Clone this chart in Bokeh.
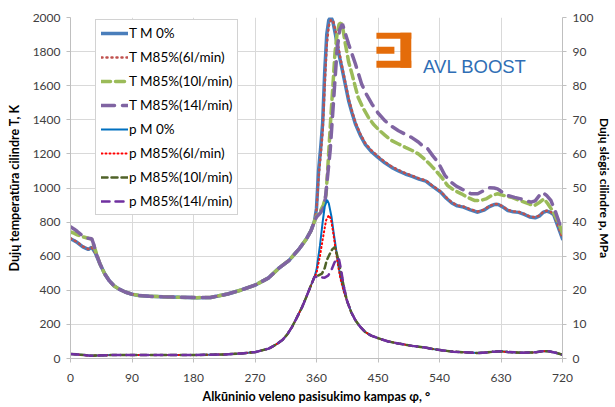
from bokeh.plotting import figure
from bokeh.models import (Range1d, LinearAxis, FixedTicker, Legend, LegendItem,
                          BoxAnnotation, Label)
from bokeh.embed import file_html
from bokeh.resources import INLINE

# ---------------- data ----------------
x_ticks = [0, 90, 180, 270, 360, 450, 540, 630, 720]
T_ticks = list(range(0, 2001, 200))
p_ticks = list(range(0, 101, 10))

# temperature, shared part of all four series (K)
phi_T_common = [43, 50, 57, 64, 72, 80, 90, 100, 115, 135, 160, 185, 205, 230, 250,
                270, 290, 305, 320, 335, 345, 352, 357]
T_common = [556, 497, 455, 425, 405, 390, 377, 370, 365, 362, 359, 357, 358, 378, 402,
            430, 473, 530, 576, 645, 700, 750, 805]

# T M 0%
phi_T0_head = [0, 5, 10, 18, 26, 31, 36]
T0_head = [702, 692, 680, 655, 640, 652, 622]
phi_T0_tail = [360, 363, 366, 369, 372, 375, 378, 381, 384, 388, 392, 397, 402, 407, 412,
               417, 424, 431, 440, 450, 460, 470, 480, 490, 500, 510, 520, 528, 535, 542,
               550, 558, 566, 575, 585, 596, 605, 613, 620, 626, 633, 640, 648, 656, 664,
               672, 680, 686, 692, 697, 702, 707, 712, 716, 720]
T0_tail = [880, 1100, 1230, 1380, 1680, 1900, 1985, 2005, 1975, 1895, 1800, 1707, 1610,
           1512, 1440, 1375, 1310, 1258, 1215, 1180, 1148, 1121, 1100, 1082, 1068, 1052,
           1040, 1015, 995, 975, 940, 912, 895, 888, 872, 858, 870, 891, 903, 903, 888,
           868, 860, 857, 845, 830, 825, 835, 858, 864, 858, 845, 790, 745, 702]

# T M85%(6l/min)
phi_T6_head = [0, 5, 10, 18, 26, 31, 36]
T6_head = [705, 694, 682, 657, 642, 652, 622]
phi_T6_tail = [360, 363, 366, 369, 372, 375, 378, 381, 384, 388, 392, 397, 402, 407, 412,
               417, 424, 431, 440, 450, 460, 470, 480, 490, 500, 510, 520, 528, 535, 542,
               550, 558, 566, 575, 585, 596, 605, 613, 620, 626, 633, 640, 648, 656, 664,
               672, 680, 686, 692, 697, 702, 707, 712, 716, 720]
T6_tail = [870, 1060, 1190, 1330, 1600, 1840, 1950, 1985, 1985, 1920, 1825, 1720, 1622,
           1525, 1450, 1385, 1318, 1265, 1222, 1186, 1153, 1126, 1105, 1087, 1072, 1056,
           1044, 1019, 999, 979, 944, 916, 898, 891, 875, 862, 873, 894, 906, 906, 891,
           871, 863, 860, 848, 833, 828, 838, 861, 867, 861, 848, 795, 750, 705]

# T M85%(10l/min)
phi_T10_head = [0, 5, 10, 18, 26, 31, 36]
T10_head = [742, 735, 725, 714, 705, 700, 640]
phi_T10_tail = [360, 365, 370, 374, 377, 381, 384, 387, 390, 393, 396, 399, 402, 407,
                412, 417, 421, 428, 436, 443, 450, 460, 470, 480, 490, 500, 509, 518, 528,
                535, 543, 552, 562, 572, 581, 591, 600, 608, 616, 625, 635, 645, 655, 664,
                672, 679, 686, 693, 699, 705, 710, 715, 720]
T10_tail = [835, 860, 900, 960, 1150, 1420, 1600, 1790, 1900, 1960, 1968, 1925, 1850,
            1740, 1668, 1590, 1531, 1470, 1414, 1375, 1346, 1310, 1278, 1258, 1238, 1220,
            1200, 1170, 1130, 1100, 1063, 1014, 985, 966, 945, 927, 927, 936, 955, 966,
            955, 946, 930, 917, 905, 897, 915, 936, 905, 868, 830, 790, 735]

# T M85%(14l/min)
phi_T14_head = [0, 5, 10, 15, 20, 26, 31, 34, 37]
T14_head = [772, 760, 745, 728, 715, 705, 703, 670, 622]
phi_T14_tail = [360, 365, 370, 373, 377, 380, 385, 390, 394, 398, 402, 407, 412, 417,
                426, 433, 441, 450, 460, 470, 480, 490, 499, 509, 518, 523, 530, 538, 548,
                557, 565, 572, 580, 586, 596, 605, 613, 620, 625, 632, 640, 650, 659, 667,
                674, 680, 686, 691, 697, 703, 710, 715, 720]
T14_tail = [830, 850, 880, 940, 1100, 1219, 1512, 1805, 1930, 1962, 1910, 1844, 1785,
            1727, 1610, 1550, 1493, 1440, 1395, 1362, 1336, 1315, 1297, 1270, 1238, 1229,
            1190, 1151, 1073, 1034, 1010, 995, 978, 966, 966, 985, 1001, 1000, 995, 975,
            956, 945, 936, 925, 917, 925, 955, 975, 955, 927, 858, 800, 745]

# pressure, shared parts of all four series (MPa)
phi_p_head = [0, 10, 20, 30, 40, 60, 90, 135, 180, 225, 250, 271, 290, 300, 310, 317,
              324, 330, 339, 345, 351, 357]
p_head = [1.3, 1.2, 1.0, 0.8, 0.9, 1.0, 1.0, 1.0, 1.0, 1.2, 1.5, 1.9, 2.9, 4.0, 5.4,
          7.0, 9.2, 11.5, 15.1, 18.0, 21.0, 23.9]
phi_p_tail = [405, 411, 417, 424, 431, 440, 451, 465, 480, 500, 519, 530, 543, 560, 577,
              596, 610, 620, 630, 640, 660, 680, 690, 700, 710, 720]
p_tail = [16.7, 13.5, 11.2, 9.3, 7.8, 6.7, 5.9, 5.0, 4.4, 3.7, 3.2, 2.8, 2.4, 2.0, 1.8,
          1.6, 1.8, 2.0, 2.1, 1.9, 1.7, 1.8, 2.1, 2.1, 1.7, 1.1]

# p M 0%
phi_p0_mid = [360, 365, 369, 372, 375.5, 378, 382, 385, 388, 391, 395, 400]
p0_mid = [26.0, 33.0, 40.0, 44.5, 46.5, 45.5, 41.5, 37.0, 33.0, 28.5, 23.9, 19.8]
# p M85%(6l/min)
phi_p6_mid = [360, 365, 370, 374, 378, 381, 384, 388, 391, 395, 400]
p6_mid = [25.0, 30.0, 36.0, 40.5, 42.0, 41.0, 37.5, 32.0, 28.0, 23.5, 19.6]
# p M85%(10l/min)
phi_p10_mid = [362, 368, 372, 375, 379, 383, 387, 390, 393, 397, 401]
p10_mid = [24.3, 24.9, 26.5, 28.8, 30.5, 32.0, 32.7, 30.5, 28.0, 24.0, 20.0]
# p M85%(14l/min)
phi_p14_mid = [362, 367, 372, 377, 382, 386, 390, 393, 396, 400]
p14_mid = [24.0, 23.8, 23.7, 24.3, 26.0, 28.0, 29.5, 29.0, 26.0, 21.0]

# logo
logo_orange = "#E46C0A"
logo_text = "AVL BOOST"

T_series = [
    ("T M 0%", phi_T0_head + phi_T_common + phi_T0_tail, T0_head + T_common + T0_tail,
     "#4A7EBB", 3.5, "solid"),
    ("T M85%(6l/min)", phi_T6_head + phi_T_common + phi_T6_tail, T6_head + T_common + T6_tail,
     "#C0504D", 2.5, "1 4"),
    ("T M85%(10l/min)", phi_T10_head + phi_T_common + phi_T10_tail,
     T10_head + T_common + T10_tail, "#9BBB59", 3.5, "9 5"),
    ("T M85%(14l/min)", phi_T14_head + phi_T_common + phi_T14_tail,
     T14_head + T_common + T14_tail, "#8064A2", 3.5, "13 8"),
]
p_series = [
    ("p M 0%", phi_p_head + phi_p0_mid + phi_p_tail, p_head + p0_mid + p_tail,
     "#0070C0", 2.0, "solid"),
    ("p M85%(6l/min)", phi_p_head + phi_p6_mid + phi_p_tail, p_head + p6_mid + p_tail,
     "#FF0000", 2.0, "1 3"),
    ("p M85%(10l/min)", phi_p_head + phi_p10_mid + phi_p_tail, p_head + p10_mid + p_tail,
     "#4F6228", 2.5, "6 4"),
    ("p M85%(14l/min)", phi_p_head + phi_p14_mid + phi_p_tail, p_head + p14_mid + p_tail,
     "#7030A0", 2.5, "8 6"),
]

# ---------------- figure ----------------
FONT = "Lato"
p = figure(width=615, height=407, output_backend="svg", toolbar_location=None,
           x_range=Range1d(0, 720), y_range=Range1d(0, 2000),
           min_border_left=70, min_border_right=50, min_border_top=17, min_border_bottom=49)
p.outline_line_color = None
p.extra_y_ranges = {"p": Range1d(0, 100)}

grid_col = "#D9D9D9"
p.xgrid.ticker = FixedTicker(ticks=x_ticks)
p.ygrid.ticker = FixedTicker(ticks=T_ticks)
p.xgrid.grid_line_color = grid_col
p.ygrid.grid_line_color = grid_col

def style_axis(ax, ticks):
    ax.ticker = FixedTicker(ticks=ticks)
    ax.axis_line_color = "#BFBFBF"
    ax.major_tick_line_color = "#BFBFBF"
    ax.major_tick_out = 4
    ax.major_tick_in = 0
    ax.minor_tick_line_color = None
    ax.major_label_text_font = FONT
    ax.major_label_text_font_size = "12px"
    ax.major_label_text_color = "#404040"
    ax.axis_label_text_font = FONT
    ax.axis_label_text_font_size = "12.5px"
    ax.axis_label_text_font_style = "bold"
    ax.axis_label_text_color = "#000000"

style_axis(p.xaxis[0], x_ticks)
p.xaxis[0].axis_label = "Alkūninio veleno pasisukimo kampas φ, °"
p.xaxis[0].major_label_standoff = 11
p.xaxis[0].axis_label_standoff = 4

style_axis(p.yaxis[0], T_ticks)
p.yaxis[0].axis_label = "Dujų temperatūra cilindre T, K"
p.yaxis[0].major_label_standoff = 6
p.yaxis[0].axis_label_standoff = 8

pax = LinearAxis(y_range_name="p")
style_axis(pax, p_ticks)
pax.axis_label = "Dujų slėgis cilindre p, MPa"
pax.axis_label_text_font_size = "12px"
pax.major_label_standoff = 6
pax.axis_label_standoff = 1
p.add_layout(pax, "right")

items = []
for name, xs, ys, col, w, dash in T_series:
    r = p.line(xs, ys, line_color=col, line_width=w, line_dash=dash, line_cap="round")
    items.append(LegendItem(label=name, renderers=[r]))
for name, xs, ys, col, w, dash in p_series:
    r = p.line(xs, ys, y_range_name="p", line_color=col, line_width=w, line_dash=dash,
               line_cap="round")
    items.append(LegendItem(label=name, renderers=[r]))

legend = Legend(items=items, location=(25, 143), glyph_width=27, glyph_height=16,
                label_height=16, spacing=8, padding=5, margin=0, label_standoff=1,
                label_text_font=FONT, label_text_font_size="13.5px",
                label_text_color="#000000", border_line_color="#A6A6A6",
                border_line_width=1, background_fill_color="white",
                background_fill_alpha=1.0)
p.add_layout(legend, "center")

# logo (decoration, data-space box corners: angle, K)
logo_boxes = [
    (447.7, 498.7, 1875, 1910),   # top bar
    (482.7, 498.7, 1705, 1910),   # right bar
    (447.7, 498.7, 1705, 1746),   # bottom bar
    (447.7, 474.0, 1787, 1828),   # middle bar
]
for l, r_, b, t in logo_boxes:
    p.add_layout(BoxAnnotation(left=l, right=r_, bottom=b, top=t,
                               fill_color=logo_orange, fill_alpha=1.0, line_color=None,
                               level="overlay"))
p.add_layout(Label(x=516, y=1711, text=logo_text, text_font="Liberation Sans",
                   text_font_size="18.5px", text_color="#2F6EB5",
                   text_baseline="alphabetic"))

open("out.html", "w").write(file_html(p, INLINE))
